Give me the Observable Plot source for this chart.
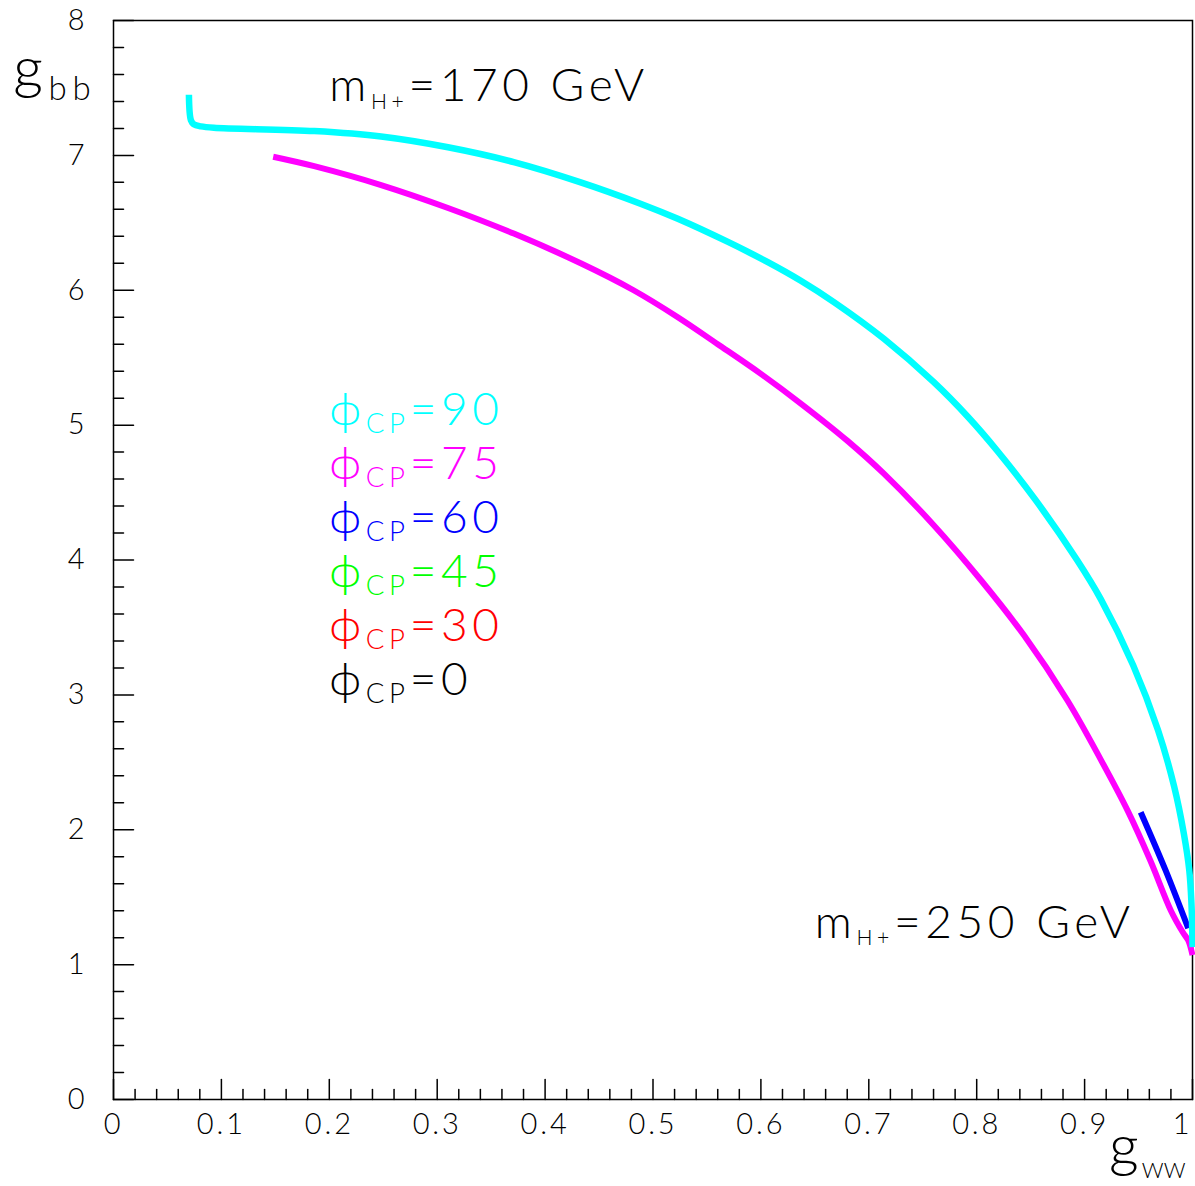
<!DOCTYPE html>
<html><head><meta charset="utf-8">
<script src="https://cdn.jsdelivr.net/npm/d3@7"></script>
<script src="https://cdn.jsdelivr.net/npm/@observablehq/plot@0.6"></script>
<style>html,body{margin:0;padding:0;background:#fff;} svg text{letter-spacing:0.1em;}</style>
</head><body><div id="chart"></div>
<script>
// gWW, gbb pairs
const phi90 = [[0.0699,7.45],[0.0718,7.26],[0.0745,7.23],[0.081,7.215],[0.093,7.205],[0.186,7.18],[0.248,7.14],[0.310,7.06],[0.371,6.95],[0.433,6.80],[0.489,6.64],[0.523,6.53],[0.569,6.36],[0.606,6.21],[0.637,6.07],[0.668,5.91],[0.714,5.64],[0.760,5.32],[0.792,5.06],[0.819,4.81],[0.855,4.44],[0.893,4.00],[0.915,3.71],[0.945,3.22],[0.968,2.74],[0.983,2.32],[0.992,1.97],[0.997,1.70],[0.999,1.46],[1.0,1.13]];
const phi75 = [[0.148,6.99],[0.186,6.92],[0.248,6.78],[0.310,6.61],[0.371,6.42],[0.433,6.20],[0.482,6.00],[0.523,5.80],[0.560,5.60],[0.600,5.38],[0.637,5.16],[0.680,4.885],[0.714,4.64],[0.760,4.26],[0.804,3.85],[0.844,3.44],[0.884,2.96],[0.915,2.52],[0.940,2.14],[0.961,1.77],[0.980,1.40],[0.991,1.24],[0.996,1.18],[1.0,1.07]];
const phi60 = [[0.952,2.13],[0.975,1.70],[0.996,1.27]];

const legendLabels = ["90","75","60","45","30","0"];
const legendColors = ["#00ffff","#ff00ff","#0000ff","#00ff00","#ff0000","#000000"];

const xMajor = [0,0.1,0.2,0.3,0.4,0.5,0.6,0.7,0.8,0.9,1];
const xMinor = d3.range(0,51).map(i => i/50).filter((d,i) => i % 5 !== 0);
const yMajor = [0,1,2,3,4,5,6,7,8];
const yMinor = d3.range(0,41).map(i => i/5).filter((d,i) => i % 5 !== 0);

const FONT = "Lato, Roboto, 'Liberation Sans', 'DejaVu Sans', sans-serif";
const upTick = {draw(ctx, l) { ctx.moveTo(0,0); ctx.lineTo(0,-l); }};
const fmt = d => String(d);

const chart = Plot.plot({
  width: 1195, height: 1186,
  marginLeft: 113, marginRight: 3, marginTop: 20, marginBottom: 87,
  x: {domain: [0,1]},
  y: {domain: [0,8]},
  color: {type: "identity"},
  style: {fontFamily: FONT, background: "white", color: "black", fontWeight: 300},
  marks: [
    Plot.vector(xMinor, {x: d => d, y: () => 0, length: 10, rotate: 0, anchor: "start", shape: upTick, stroke: "black", strokeWidth: 1.5}),
    Plot.vector(xMajor, {x: d => d, y: () => 0, length: 20, rotate: 0, anchor: "start", shape: upTick, stroke: "black", strokeWidth: 1.5}),
    Plot.vector(yMinor, {y: d => d, x: () => 0, length: 10, rotate: 90, anchor: "start", shape: upTick, stroke: "black", strokeWidth: 1.5}),
    Plot.vector(yMajor, {y: d => d, x: () => 0, length: 20, rotate: 90, anchor: "start", shape: upTick, stroke: "black", strokeWidth: 1.5}),
    Plot.axisX(xMajor.slice(0, -1), {tickSize: 0, tickPadding: 14, fontSize: 29, fontWeight: 300, tickFormat: fmt, label: null}),
    Plot.axisX(xMajor.slice(-1), {tickSize: 0, tickPadding: 14, fontSize: 29, fontWeight: 300, tickFormat: fmt, textAnchor: "end", label: null}),
    Plot.axisY(yMajor, {tickSize: 0, tickPadding: 26, fontSize: 29, fontWeight: 300, tickFormat: fmt, label: null}),
    Plot.frame({stroke: "black", strokeWidth: 1.5}),
    Plot.line(phi75, {x: d => d[0], y: d => d[1], stroke: "#ff00ff", strokeWidth: 6, curve: "catmull-rom", strokeLinecap: "butt"}),
    Plot.line(phi60, {x: d => d[0], y: d => d[1], stroke: "#0000ff", strokeWidth: 6, curve: "catmull-rom", strokeLinecap: "butt"}),
    Plot.line(phi90, {x: d => d[0], y: d => d[1], stroke: "#00ffff", strokeWidth: 6.5, curve: "catmull-rom", strokeLinecap: "butt"}),
    Plot.text(["m_{H+}=170 GeV"], {x: 0.2, y: 7.4, text: d => d, textAnchor: "start", lineAnchor: "bottom", fontSize: 46, fontWeight: 300, fill: "black"}),
    Plot.text(["m_{H+}=250 GeV"], {x: 0.65, y: 1.2, text: d => d, textAnchor: "start", lineAnchor: "bottom", fontSize: 46, fontWeight: 300, fill: "black"}),
    Plot.text(legendLabels, {x: 0.2, y: (d, i) => 5.0 - 0.4 * i, text: d => `ϕ_{CP}=${d}`, textAnchor: "start", lineAnchor: "bottom", fontSize: 46, fontWeight: 300, fill: (d, i) => legendColors[i]}),
    Plot.text(["g_{bb}"], {x: -0.093, y: 7.5, text: d => d, textAnchor: "start", lineAnchor: "bottom", fontSize: 58, fontWeight: 300, fill: "black"}),
    Plot.text(["g_{WW}"], {x: 0.9935, y: -0.494, text: d => d, textAnchor: "end", lineAnchor: "bottom", fontSize: 58, fontWeight: 300, fill: "black"})
  ]
});

// subscripts: [ratio of font size, downward shift in em of the base size]
const subStyles = {"H+": [0.46, 0.17], "CP": [0.6, 0.17], "bb": [0.57, 0.2], "WW": [0.37, 0.2]};
d3.select(chart).selectAll("text").each(function() {
  const s = this.textContent;
  if (!s.includes("_{")) return;
  const el = d3.select(this);
  el.text(null);
  if (s === "g_{WW}") el.style("letter-spacing", "0px");
  const re = /_\{([^}]*)\}/g;
  let last = 0, m, pendingDy = null;
  while ((m = re.exec(s))) {
    if (m.index > last) {
      const t = el.append("tspan").text(s.slice(last, m.index));
      if (pendingDy !== null) { t.attr("dy", pendingDy); pendingDy = null; }
    }
    const [r, sh] = subStyles[m[1]] || [0.6, 0.2];
    el.append("tspan").attr("font-size", `${r * 100}%`).attr("dy", `${sh / r}em`).attr("dx", s === "g_{WW}" ? "0.15em" : null).text(m[1]);
    pendingDy = `${-sh}em`;
    last = re.lastIndex;
  }
  if (last < s.length) {
    const t = el.append("tspan").text(s.slice(last));
    if (pendingDy !== null) t.attr("dy", pendingDy);
  }
});

document.getElementById("chart").appendChild(chart);
</script>
</body></html>
